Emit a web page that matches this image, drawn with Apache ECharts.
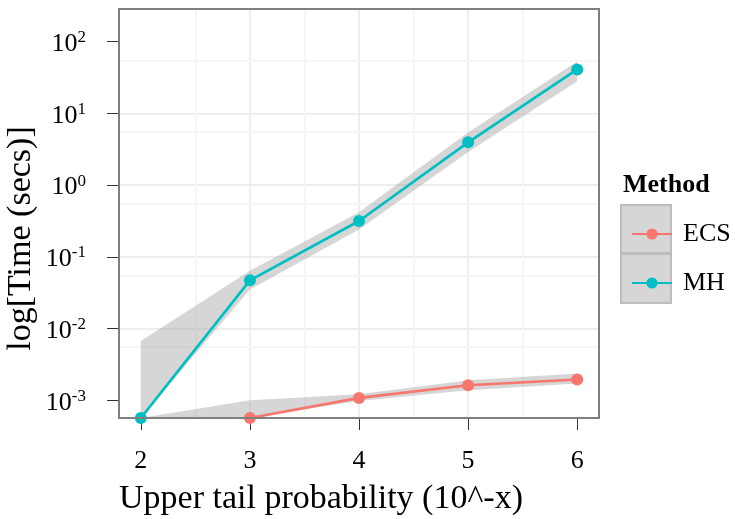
<!DOCTYPE html>
<html>
<head>
<meta charset="utf-8">
<script src="https://cdn.jsdelivr.net/npm/echarts/dist/echarts.min.js"></script>
<style>
  html, body { margin: 0; padding: 0; background: #fff; }
  #chart { width: 735px; height: 519px; }
</style>
</head>
<body>
<div id="chart"></div>
<script>
// x = exponent of the upper tail probability, times in seconds
// 0 = zero time (drawn on the floor of the log axis), null = no point
const tailExp = [2, 3, 4, 5, 6];
const ecsTime = [null, 0, 0.00108, 0.00162, 0.00195];
const ecsLow = [0, 0, 0.00098, 0.00138, 0.00171];
const ecsHigh = [0, 0.001, 0.00121, 0.0019, 0.00236];
const mhTime = [0, 0.047, 0.316, 3.95, 41];
const mhLow = [0, 0.035, 0.24, 2.9, 28];
const mhHigh = [0.0067, 0.064, 0.42, 5.4, 53];

const yTickExp = [-3, -2, -1, 0, 1, 2];
const yMinorSecs = [0.0055, 0.055, 0.55, 5.5, 55];
const xTicks = [2, 3, 4, 5, 6];
const xMinor = [2.5, 3.5, 4.5, 5.5];

const X_MIN = 1.8, X_MAX = 6.2;
const Y_MIN = -3.247, Y_MAX = 2.456;

const FONT = '"Liberation Serif", "DejaVu Serif", serif';
const RED = '#F8766D';
const TEAL = '#00BFC4';
const BAND = 'rgba(153,153,153,0.4)';

const lg = (v) => (v > 0 ? Math.log10(v) : Y_MIN);
const pts = (arr) => arr
  .map((v, i) => (v === null ? null : [tailExp[i], lg(v)]))
  .filter((p) => p !== null);

const G = { left: 119, top: 9, width: 480, height: 409 };

const chart = echarts.init(document.getElementById('chart'), null, { renderer: 'canvas' });

// confidence ribbon drawn as one polygon through the axis scales
function band(lo, hi) {
  return {
    type: 'custom', clip: true, silent: true, z: 1,
    encode: { x: 0, y: [1, 2] },
    data: tailExp.map((x, i) => [x, lg(lo[i]), lg(hi[i])]),
    renderItem: (params, api) => {
      if (params.dataIndexInside !== 0) return null;
      const n = tailExp.length;
      const top = [];
      const bottom = [];
      for (let i = 0; i < n; i++) {
        const x = api.value(0, i);
        top.push(api.coord([x, api.value(2, i)]));
        bottom.unshift(api.coord([x, api.value(1, i)]));
      }
      return { type: 'polygon', shape: { points: top.concat(bottom) }, style: { fill: BAND } };
    },
  };
}

function methodLine(name, vals, color) {
  return {
    name: name, type: 'line', data: pts(vals), z: 3,
    symbol: 'circle', symbolSize: 12,
    itemStyle: { color: color },
    lineStyle: { color: color, width: 2.7 },
  };
}

chart.setOption({
  animation: false,
  backgroundColor: '#fff',
  grid: { left: G.left, top: G.top, right: 735 - G.left - G.width, bottom: 519 - G.top - G.height, show: false },
  xAxis: {
    type: 'value', min: X_MIN, max: X_MAX,
    axisLine: { show: false, onZero: false },
    axisTick: { show: true, length: 12, customValues: xTicks, lineStyle: { color: '#333', width: 1 } },
    axisLabel: { customValues: xTicks, margin: 30, fontSize: 26, fontFamily: FONT, color: '#000' },
    splitLine: { show: true, showMinLine: false, showMaxLine: false, lineStyle: { color: '#e8e8e8', width: 1.5 } },
  },
  yAxis: {
    type: 'value', min: Y_MIN, max: Y_MAX,
    axisLine: { show: false, onZero: false },
    axisTick: { show: true, length: 12, customValues: yTickExp, lineStyle: { color: '#333', width: 1 } },
    axisLabel: {
      customValues: yTickExp, margin: 33, padding: [5, 0, 0, 0],
      formatter: (v) => '{b|10}{s|' + v + '}',
      rich: {
        b: { fontSize: 26, fontFamily: FONT, color: '#000', lineHeight: 30, verticalAlign: 'middle' },
        s: { fontSize: 17, fontFamily: FONT, color: '#000', lineHeight: 17, verticalAlign: 'top' },
      },
    },
    splitLine: { show: true, showMinLine: false, showMaxLine: false, lineStyle: { color: '#e8e8e8', width: 1.5 } },
  },
  legend: {
    data: ['ECS', 'MH'], orient: 'vertical', left: 626, top: 214,
    itemWidth: 40, itemHeight: 14, itemGap: 19,
    textStyle: { fontSize: 26, fontFamily: FONT, color: '#000', lineHeight: 30, padding: [0, 0, 0, 6] },
  },
  graphic: [
    { type: 'rect', z: 0, shape: { x: 621, y: 205, width: 50, height: 48 }, style: { fill: '#d6d6d6', stroke: '#bdbdbd', lineWidth: 2 } },
    { type: 'rect', z: 0, shape: { x: 621, y: 254, width: 50, height: 49 }, style: { fill: '#d6d6d6', stroke: '#bdbdbd', lineWidth: 2 } },
    { type: 'text', x: 623, y: 185, style: { text: 'Method', font: 'bold 26px ' + FONT, fill: '#000', align: 'left', verticalAlign: 'middle' } },
    { type: 'text', x: 321, y: 499, style: { text: 'Upper tail probability (10^-x)', font: '34px ' + FONT, fill: '#000', align: 'center', verticalAlign: 'middle' } },
    { type: 'text', x: 21, y: 238.5, rotation: Math.PI / 2, style: { text: 'log[Time (secs)]', font: '34px ' + FONT, fill: '#000', align: 'center', verticalAlign: 'middle' } },
    { type: 'rect', z: 100, shape: { x: G.left, y: G.top, width: G.width, height: G.height }, style: { fill: 'none', stroke: '#7f7f7f', lineWidth: 2 } },
  ],
  series: [
    {
      name: 'minorGrid', type: 'line', data: [], z: 0, silent: true,
      markLine: {
        z: 0, silent: true, symbol: ['none', 'none'], label: { show: false },
        lineStyle: { color: '#f6f6f6', width: 2, type: 'solid' },
        data: xMinor.map((v) => ({ xAxis: v })).concat(yMinorSecs.map((v) => ({ yAxis: Math.log10(v) }))),
      },
    },
    band(ecsLow, ecsHigh),
    band(mhLow, mhHigh),
    methodLine('ECS', ecsTime, RED),
    methodLine('MH', mhTime, TEAL),
  ],
});
</script>
</body>
</html>
